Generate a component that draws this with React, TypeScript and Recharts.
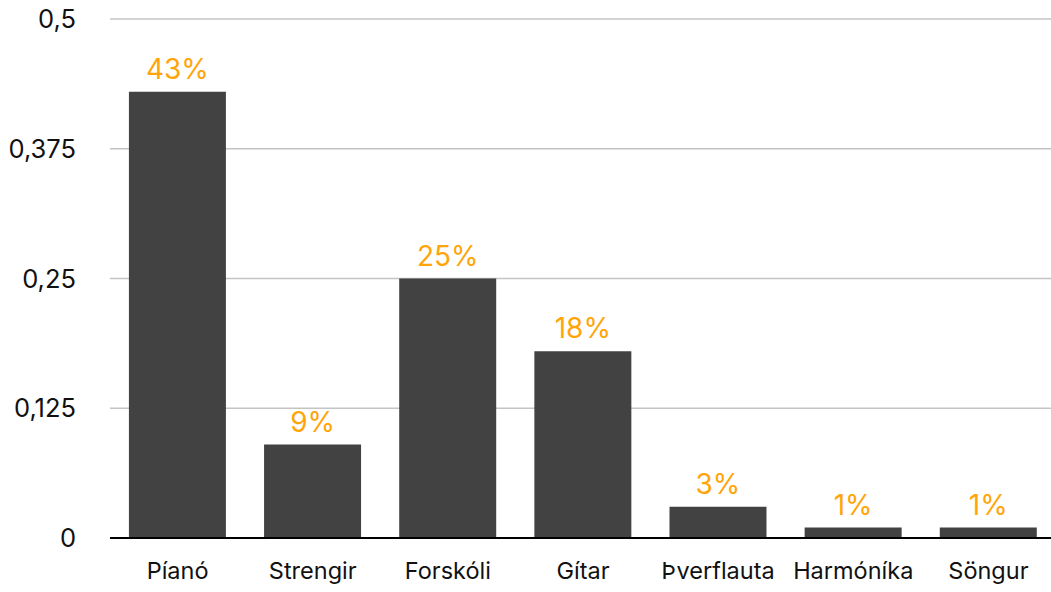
import React from "react";
import {
  BarChart,
  Bar,
  XAxis,
  YAxis,
  CartesianGrid,
  LabelList,
} from "recharts";

const categories = [
  "Píanó",
  "Strengir",
  "Forskóli",
  "Gítar",
  "Þverflauta",
  "Harmóníka",
  "Söngur",
];
const shares = [0.43, 0.09, 0.25, 0.18, 0.03, 0.01, 0.01];
const yTicks = [0, 0.125, 0.25, 0.375, 0.5];

const data = categories.map((name, i) => ({ name, value: shares[i] }));

const font = "Inter, 'Noto Sans', sans-serif";

export default function App() {
  return (
    <div
      style={{
        position: "absolute",
        left: 0,
        top: 0,
        width: 1051,
        height: 592,
        overflow: "hidden",
        background: "#fff",
        fontFamily: font,
      }}
    >
      <BarChart
        width={1056}
        height={592}
        data={data}
        margin={{ top: 19, right: 0, left: 0, bottom: 0 }}
        barCategoryGap="14%"
      >
        <CartesianGrid vertical={false} stroke="#c4c4c4" strokeWidth={1.3} />
        <XAxis
          dataKey="name"
          height={54}
          tickLine={false}
          axisLine={{ stroke: "#000", strokeWidth: 2 }}
          tick={{ fill: "#111", fontSize: 23.5, fontFamily: font }}
          tickMargin={18}
          interval={0}
        />
        <YAxis
          width={110}
          domain={[0, 0.5]}
          ticks={yTicks}
          tickLine={false}
          axisLine={false}
          tickSize={0}
          tickMargin={34}
          tickFormatter={(v: number) => String(v).replace(".", ",")}
          tick={{ fill: "#111", fontSize: 25.5, fontFamily: font }}
        />
        <Bar dataKey="value" fill="#424242" isAnimationActive={false}>
          <LabelList
            dataKey="value"
            position="top"
            offset={13}
            formatter={(v: number) => `${Math.round(v * 100)}%`}
            style={{ fill: "#FFA50A", fontSize: 28, fontFamily: font }}
          />
        </Bar>
      </BarChart>
    </div>
  );
}
